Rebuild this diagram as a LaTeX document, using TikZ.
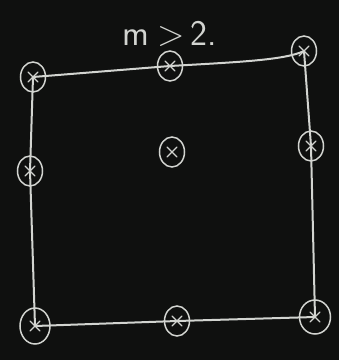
\documentclass[tikz,border=0pt]{standalone}
\usetikzlibrary{shapes.geometric}
\definecolor{board}{HTML}{0F100F}
\definecolor{chalk}{HTML}{D2D4D0}
\tikzset{
  chalkline/.style={draw=chalk, line width=2pt, line cap=round, line join=round},
  pt/.style={ellipse, draw=chalk, line width=1.5pt, minimum width=#1, minimum height=30pt, inner sep=0pt,
    path picture={\draw[chalk, line width=1.3pt, line cap=round]
      ([shift={(-5pt,-5pt)}]path picture bounding box.center) -- ([shift={(5pt,5pt)}]path picture bounding box.center)
      ([shift={(-5pt,5pt)}]path picture bounding box.center) -- ([shift={(5pt,-5pt)}]path picture bounding box.center);}},
  pt/.default=25pt
}
\begin{document}
\begin{tikzpicture}[x=1pt,y=-1pt]
\fill[board] (0,0) rectangle (339,360);
\useasboundingbox (0,0) rectangle (339,360);
\node[pt] (tl) at (33,77) {};
\node[pt] (tm) at (170,66) {};
\node[pt] (tr) at (304,51) {};
\node[pt] (ml) at (30,171) {};
\node[pt] (c) at (172,152) {};
\node[pt] (mr) at (311,146) {};
\node[pt=30pt, minimum height=36pt] (bl) at (35,326) {};
\node[pt] (bm) at (177,321) {};
\node[pt=31pt, minimum height=34pt] (br) at (315,317) {};
\draw[chalkline] (tl.center) -- (tm.center) .. controls (240,62) and (285,60) .. (tr.center);
\draw[chalkline] (tl.center) -- (ml.center) -- (bl.center) -- (bm.center) -- (br.center) -- (mr.center) -- (tr.center);
\node[text=chalk, font=\sffamily\fontsize{36}{36}\selectfont] (title) at (170,34) {m\hspace{8pt}>\hspace{6pt}2.};
\end{tikzpicture}
\end{document}
